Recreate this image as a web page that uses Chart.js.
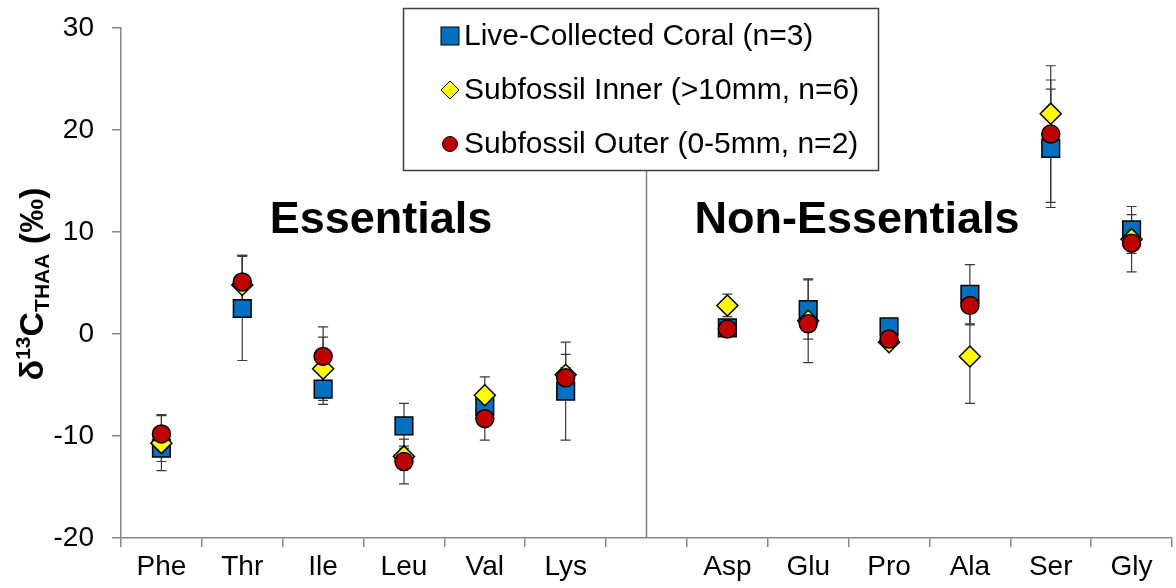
<!DOCTYPE html>
<html>
<head>
<meta charset="utf-8">
<style>
  body { margin: 0; background: #fff; }
  #wrap { width: 1176px; height: 588px; }
</style>
</head>
<body>
<div id="wrap">
    <canvas id="myChart"></canvas>
</div>

<script src="https://cdn.jsdelivr.net/npm/chart.js@4.4.1/dist/chart.umd.min.js"></script>

<script>
    // amino acids, blank slot splits essentials / non-essentials
    var labels = ['Phe', 'Thr', 'Ile', 'Leu', 'Val', 'Lys', '', 'Asp', 'Glu', 'Pro', 'Ala', 'Ser', 'Gly'];

    var liveVals  = [-11.2, 2.5, -5.4, -9.0, -7.1, -5.6, null, 0.6, 2.4, 0.7, 3.9, 18.2, 10.2];
    var liveErr   = [1.3, 5.1, 1.5, 2.2, 1.0, 4.8, null, 0.3, 2.9, 0.3, 2.9, 5.8, 2.3];
    var innerVals = [-10.7, 4.8, -3.4, -12.0, -6.0, -4.0, null, 2.8, 1.3, -0.8, -2.2, 21.6, 9.3];
    var innerErr  = [2.7, 2.9, 3.1, 1.0, 1.8, 2.0, null, 1.1, 4.1, 0.3, 4.6, 3.3, 0.5];
    var outerVals = [-9.8, 5.1, -2.2, -12.5, -8.3, -4.3, null, 0.5, 1.0, -0.5, 2.8, 19.6, 8.9];
    var outerErr  = [1.9, 2.6, 2.9, 2.2, 2.1, 1.0, null, 0.3, 0.3, 0.3, 1.9, 6.7, 2.8];

    var yTicks = [-20, -10, 0, 10, 20, 30];

    var seriesNames = ['Live-Collected Coral (n=3)', 'Subfossil Inner (>10mm, n=6)', 'Subfossil Outer (0-5mm, n=2)'];

    var FONT = "'Liberation Sans', Arial, sans-serif";
    var AXIS = '#868686';

    var errorBarPlugin = {
        id: 'errorBarPlugin',
        beforeDatasetsDraw: function (chart) {
            var ctx = chart.ctx;
            var xs = chart.scales['x'];
            var ys = chart.scales['y'];
            var area = chart.chartArea;

            // divider between the two groups (sits in the empty slot)
            var xd = xs.getPixelForValue(6);
            ctx.save();
            ctx.beginPath();
            ctx.strokeStyle = '#808080';
            ctx.lineWidth = 1.5;
            ctx.moveTo(xd, area.top);
            ctx.lineTo(xd, area.bottom);
            ctx.stroke();

            ctx.strokeStyle = '#3a3a3a';
            ctx.lineWidth = 1.2;
            chart.data.datasets.forEach(function (ds) {
                ds.data.forEach(function (v, i) {
                    var e = ds.err[i];
                    if (v === null || e === null) return;
                    var x = xs.getPixelForValue(i);
                    var yt = ys.getPixelForValue(v + e);
                    var yb = ys.getPixelForValue(v - e);
                    ctx.beginPath();
                    ctx.moveTo(x, yt);
                    ctx.lineTo(x, yb);
                    ctx.moveTo(x - 5, yt);
                    ctx.lineTo(x + 5, yt);
                    ctx.moveTo(x - 5, yb);
                    ctx.lineTo(x + 5, yb);
                    ctx.stroke();
                });
            });
            ctx.restore();
        },
        afterDraw: function (chart) {
            var ctx = chart.ctx;
            ctx.save();

            // group labels
            ctx.fillStyle = '#000';
            ctx.font = 'bold 45px ' + FONT;
            ctx.textAlign = 'center';
            ctx.textBaseline = 'alphabetic';
            ctx.fillText('Essentials', 381, 233);
            ctx.fillText('Non-Essentials', 857, 233);

            // legend box
            ctx.fillStyle = '#fff';
            ctx.fillRect(403, 8, 475, 162);
            ctx.strokeStyle = '#404040';
            ctx.lineWidth = 1.5;
            ctx.strokeRect(403.5, 8.5, 475, 162);

            var rows = [36, 90, 144];
            var mx = 450;
            ctx.lineWidth = 1;
            ctx.strokeStyle = '#000';
            // square
            ctx.fillStyle = '#0070C0';
            ctx.fillRect(mx - 9, rows[0] - 9, 18, 18);
            ctx.strokeRect(mx - 9, rows[0] - 9, 18, 18);
            // diamond
            ctx.beginPath();
            ctx.moveTo(mx - 9, rows[1]);
            ctx.lineTo(mx, rows[1] - 9);
            ctx.lineTo(mx + 9, rows[1]);
            ctx.lineTo(mx, rows[1] + 9);
            ctx.closePath();
            ctx.fillStyle = '#FFFF00';
            ctx.fill();
            ctx.stroke();
            // circle
            ctx.beginPath();
            ctx.arc(mx, rows[2], 7.5, 0, Math.PI * 2);
            ctx.fillStyle = '#C00000';
            ctx.fill();
            ctx.stroke();

            ctx.fillStyle = '#000';
            ctx.font = '30px ' + FONT;
            ctx.textAlign = 'left';
            ctx.textBaseline = 'middle';
            seriesNames.forEach(function (n, k) {
                ctx.fillText(n, 464, rows[k] + 1);
            });

            // y axis title: δ13C(THAA) (‰)
            var big = 'bold 34px ' + FONT;
            var small = 'bold 21px ' + FONT;
            var parts = [
                { t: '\u03B4', f: big, dy: 0 },
                { t: '13', f: small, dy: -13 },
                { t: 'C', f: big, dy: 0 },
                { t: 'THAA', f: small, dy: 6 },
                { t: ' (\u2030)', f: big, dy: 0 }
            ];
            var total = 0;
            parts.forEach(function (p) { ctx.font = p.f; p.w = ctx.measureText(p.t).width; total += p.w; });
            ctx.translate(43, 284);
            ctx.rotate(-Math.PI / 2);
            ctx.textBaseline = 'alphabetic';
            var cx = -total / 2;
            parts.forEach(function (p) {
                ctx.font = p.f;
                ctx.fillText(p.t, cx, p.dy);
                cx += p.w;
            });
            ctx.restore();
        }
    };

    Chart.register(errorBarPlugin);

    const ctx = document.getElementById('myChart');

    new Chart(ctx, {
        type: 'line',
        data: {
            labels: labels,
            datasets: [{
                label: seriesNames[0],
                data: liveVals,
                err: liveErr,
                showLine: false,
                pointStyle: 'rect',
                pointRadius: 12.5,
                pointHoverRadius: 12.5,
                backgroundColor: '#0070C0',
                borderColor: '#000',
                pointBorderWidth: 1.5,
                order: 2
            }, {
                label: seriesNames[1],
                data: innerVals,
                err: innerErr,
                showLine: false,
                pointStyle: 'rectRot',
                pointRadius: 10.5,
                pointHoverRadius: 10.5,
                backgroundColor: '#FFFF00',
                borderColor: '#000',
                pointBorderWidth: 1.5,
                order: 1
            }, {
                label: seriesNames[2],
                data: outerVals,
                err: outerErr,
                showLine: false,
                pointStyle: 'circle',
                pointRadius: 9,
                pointHoverRadius: 9,
                backgroundColor: '#C00000',
                borderColor: '#000',
                pointBorderWidth: 1.5,
                order: 0
            }]
        },
        options: {
            responsive: true,
            maintainAspectRatio: false,
            animation: false,
            layout: { autoPadding: false, padding: { top: 28, right: 4, left: 0, bottom: 0 } },
            plugins: {
                legend: { display: false },
                tooltip: { enabled: false }
            },
            scales: {
                x: {
                    type: 'category',
                    offset: true,
                    afterFit: function (s) {
                        s.height = 50;
                        s.paddingLeft = 0;
                        s.paddingRight = 0;
                    },
                    grid: {
                        display: true,
                        drawOnChartArea: false,
                        offset: true,
                        tickLength: 9,
                        color: AXIS,
                        lineWidth: 1.5
                    },
                    border: { color: AXIS, width: 1.5 },
                    ticks: {
                        color: '#000',
                        font: { size: 28, family: FONT },
                        padding: 3,
                        maxRotation: 0,
                        autoSkip: false
                    }
                },
                y: {
                    min: yTicks[0],
                    max: yTicks[yTicks.length - 1],
                    afterFit: function (s) {
                        s.width = 121;
                        s.paddingTop = 0;
                        s.paddingBottom = 0;
                    },
                    afterBuildTicks: function (s) {
                        s.ticks = yTicks.map(function (v) { return { value: v }; });
                    },
                    grid: {
                        display: true,
                        drawOnChartArea: false,
                        tickLength: 9,
                        color: AXIS,
                        lineWidth: 1.5
                    },
                    border: { color: AXIS, width: 1.5 },
                    ticks: {
                        color: '#000',
                        font: { size: 28, family: FONT },
                        padding: 18
                    }
                }
            }
        }
    });
</script>
</body>
</html>
